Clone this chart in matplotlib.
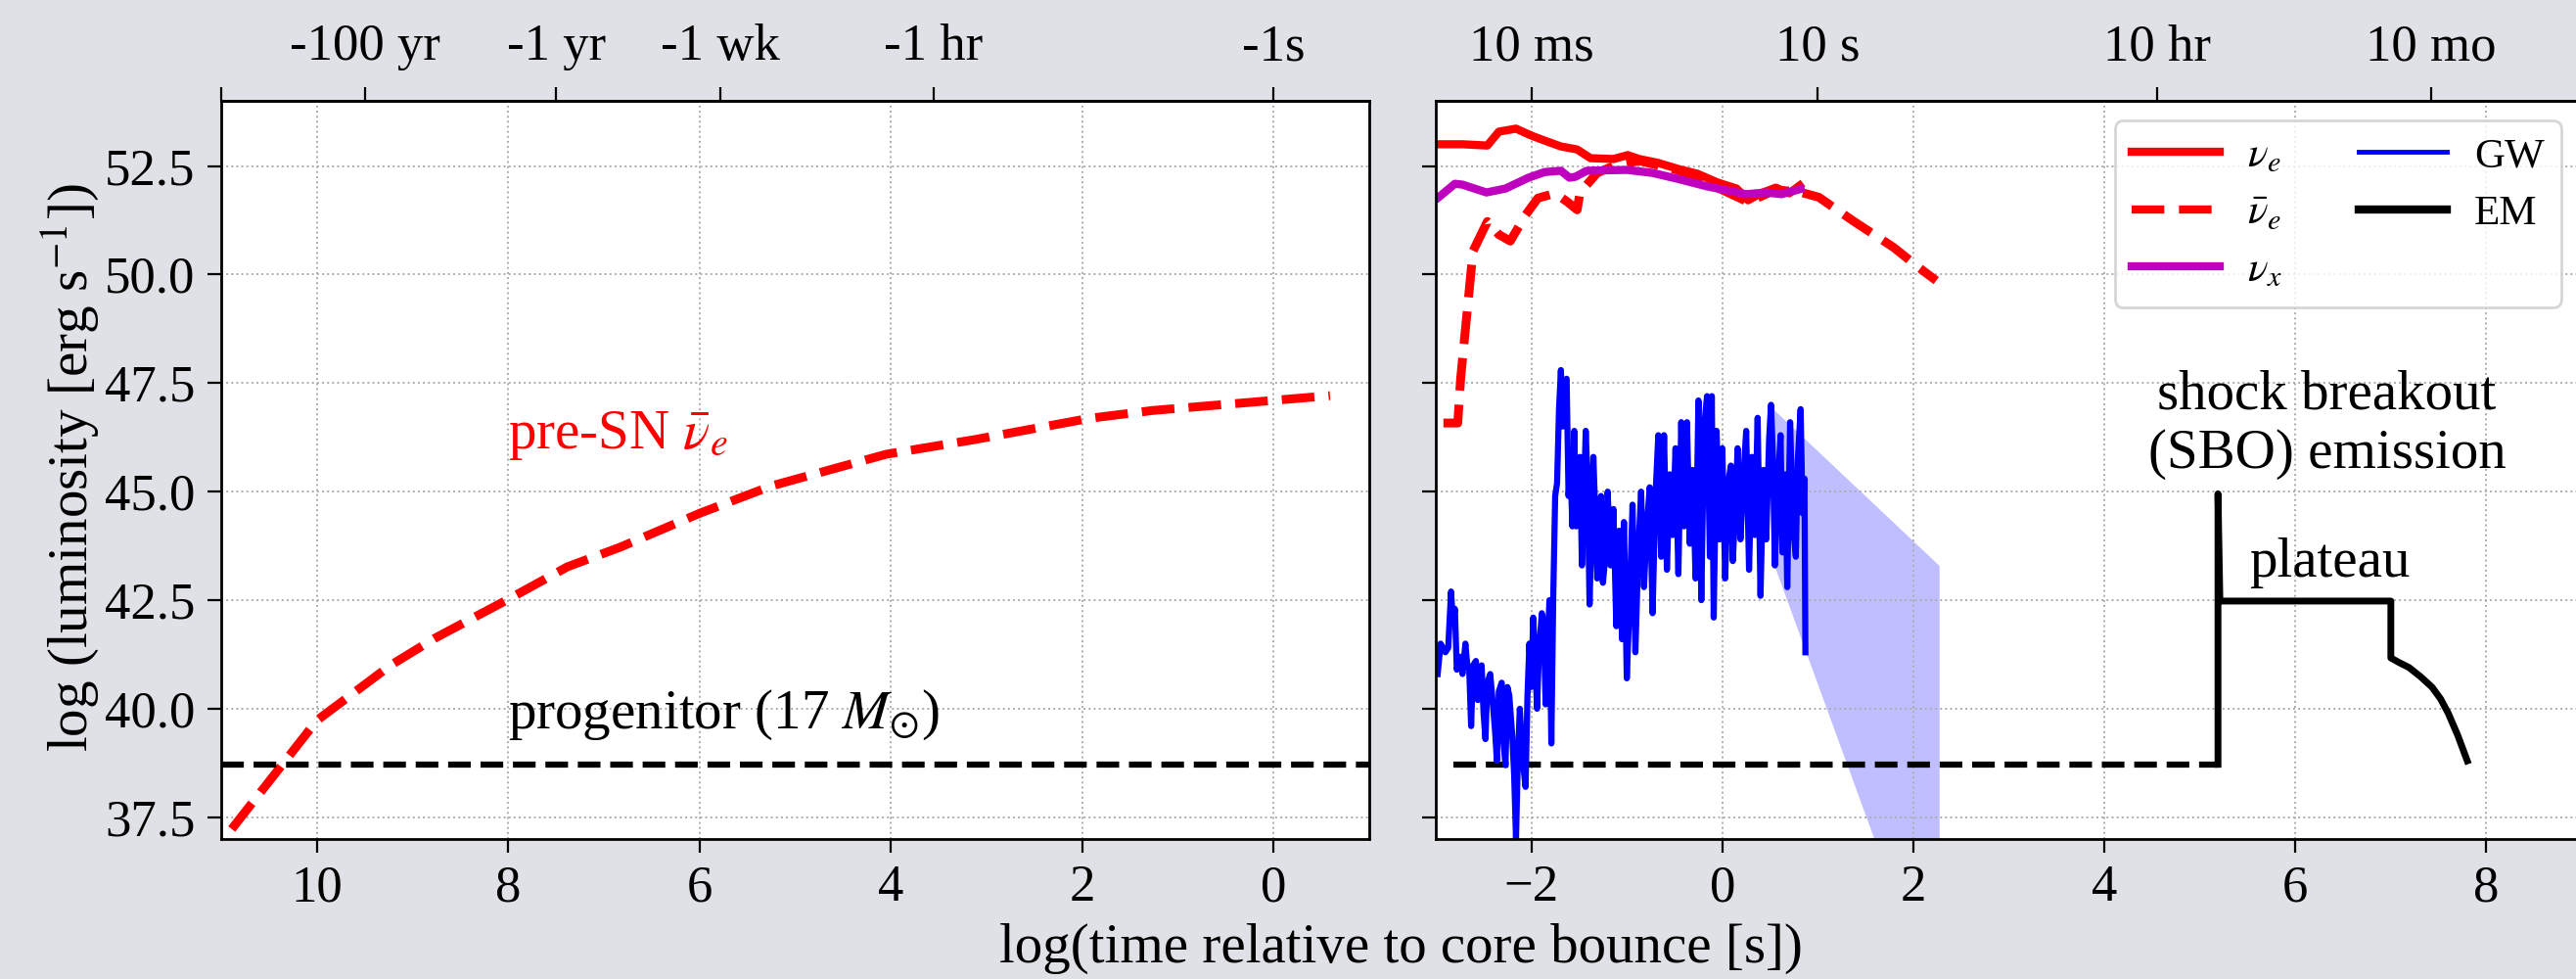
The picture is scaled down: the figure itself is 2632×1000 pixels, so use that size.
import numpy as np
import matplotlib
matplotlib.use('Agg')
import matplotlib.pyplot as plt
from matplotlib.lines import Line2D

plt.rcParams['font.family'] = ['Liberation Serif', 'DejaVu Serif']
plt.rcParams['mathtext.fontset'] = 'stix'
plt.rcParams['axes.unicode_minus'] = True

# ---------------- data ----------------
# left panel: log10(-t) before bounce
presn_x = [10.89, 10.0, 9.23, 8.77, 8.0, 7.38, 6.83, 6.0, 5.25, 4.05, 3.12, 1.92, 1.26, -0.59]
presn_y = [37.23, 39.73, 41.0, 41.62, 42.52, 43.27, 43.72, 44.5, 45.13, 45.86, 46.2, 46.69, 46.87, 47.21]
progenitor_L = 38.72

# right panel: log10(t) after bounce
nue_x = [-2.97, -2.72, -2.46, -2.34, -2.16, -2.0, -1.83, -1.69, -1.52, -1.38, -1.14, -0.99,
         -0.87, -0.67, -0.46, -0.26, -0.05, 0.15, 0.27, 0.40, 0.56, 0.70, 0.81]
nue_y = [53.0, 53.0, 52.97, 53.29, 53.36, 53.2, 53.06, 52.95, 52.88, 52.68, 52.66, 52.75,
         52.66, 52.57, 52.43, 52.32, 52.12, 51.98, 51.71, 51.87, 52.0, 51.87, 52.05]

nuebar_x = [-2.92, -2.77, -2.74, -2.70, -2.61, -2.46, -2.34, -2.22, -2.06, -1.93, -1.75, -1.62,
            -1.52, -1.49, -1.31, -1.14, -0.87, -0.46, -0.05, 0.27, 0.56, 0.81, 1.01, 1.38,
            1.79, 2.07, 2.24]
nuebar_y = [46.58, 46.58, 47.6, 48.51, 50.54, 51.22, 50.92, 50.77, 51.37, 51.76, 51.87, 51.67,
            51.49, 51.89, 52.34, 52.5, 52.62, 52.4, 52.0, 51.67, 51.95, 51.9, 51.78, 51.22,
            50.63, 50.14, 49.86]

nux_x = [-2.97, -2.80, -2.72, -2.47, -2.27, -2.03, -1.86, -1.69, -1.60, -1.54, -1.42, -1.0,
         -0.73, -0.46, -0.16, 0.25, 0.46, 0.62, 0.82]
nux_y = [51.78, 52.09, 52.07, 51.89, 51.98, 52.23, 52.36, 52.39, 52.23, 52.25, 52.39, 52.41,
         52.34, 52.2, 52.03, 51.85, 51.89, 51.85, 51.97]

gw_x = [-2.98, -2.95, -2.90, -2.87, -2.84, -2.82, -2.80, -2.78, -2.75, -2.72, -2.69, -2.67,
        -2.65, -2.63, -2.61, -2.58, -2.56, -2.54, -2.52, -2.50, -2.48, -2.46, -2.43, -2.41,
        -2.38, -2.36, -2.34, -2.31, -2.29, -2.27, -2.25, -2.23, -2.20, -2.18, -2.16, -2.14,
        -2.12, -2.10, -2.08, -2.06, -2.04, -2.02, -2.00, -1.98, -1.96, -1.94, -1.92, -1.89,
        -1.87, -1.85, -1.83, -1.81, -1.79, -1.77,
        -1.75, -1.73, -1.71, -1.69, -1.67, -1.65, -1.63, -1.61, -1.59, -1.57, -1.55, -1.53,
        -1.51, -1.49, -1.47, -1.45, -1.43, -1.41, -1.39, -1.37, -1.35, -1.33, -1.31, -1.29,
        -1.27, -1.25, -1.22, -1.20, -1.17, -1.14, -1.11, -1.08, -1.05, -1.03, -1.00, -0.97,
        -0.94, -0.91, -0.88, -0.85, -0.82, -0.79, -0.76, -0.73, -0.70, -0.67, -0.64, -0.61,
        -0.58, -0.55, -0.52, -0.49, -0.46, -0.43, -0.40, -0.37, -0.34, -0.31, -0.28, -0.25,
        -0.22, -0.19, -0.16, -0.13, -0.11, -0.09, -0.06, -0.03, 0.00, 0.03, 0.06, 0.09,
        0.11, 0.14, 0.16, 0.19, 0.22, 0.25, 0.28, 0.31, 0.34, 0.37, 0.40, 0.43,
        0.46, 0.49, 0.51, 0.53, 0.55, 0.58, 0.61, 0.63, 0.66, 0.68, 0.71, 0.74,
        0.77, 0.79, 0.82, 0.84, 0.86, 0.87]
gw_y = [40.8, 41.5, 41.3, 41.4, 42.7, 42.0, 42.3, 40.9, 41.2, 40.8, 41.5, 41.0,
        40.9, 39.6, 41.0, 41.1, 40.2, 40.9, 41.0, 39.9, 39.3, 40.6, 40.8, 40.3,
        39.5, 38.8, 40.4, 40.6, 39.2, 38.7, 40.5, 40.3, 39.4, 38.5, 37.0, 38.9,
        40.0, 39.2, 38.6, 38.2, 40.3, 41.5, 40.5, 42.1, 41.2, 40.0, 41.3, 42.2,
        42.0, 40.1, 41.4, 42.5, 39.2, 42.6,
        44.9, 45.2, 46.9, 47.8, 46.5, 47.5, 47.6, 44.9, 45.6, 44.2, 46.4, 44.2,
        45.0, 45.8, 43.3, 44.8, 46.4, 45.2, 42.4, 44.1, 45.8, 44.5, 43.0, 43.6,
        44.9, 42.9, 43.6, 45.0, 43.3, 44.6, 41.9, 44.1, 41.6, 44.3, 40.7, 42.5,
        44.7, 41.3, 43.6, 45.0, 42.8, 44.2, 45.1, 42.2, 44.9, 46.3, 43.5, 46.3,
        43.2, 45.4, 44.0, 46.0, 43.1, 46.6, 44.2, 46.6, 43.8, 45.5, 43.0, 47.1,
        42.5, 46.5, 47.2, 43.5, 47.2, 42.1, 46.4, 43.9, 46.0, 43.0, 45.2, 45.6,
        43.4, 44.8, 46.0, 43.9, 45.3, 46.4, 43.2, 45.8, 44.0, 46.7, 42.6, 45.5,
        43.9, 46.2, 47.0, 45.8, 43.3, 45.1, 46.3, 43.6, 45.4, 42.8, 46.6, 44.2,
        43.5, 45.7, 46.9, 44.5, 45.3, 41.3]

# GW extrapolated band
band_x = [0.51, 2.27]
band_hi = [46.95, 43.3]
band_lo = [43.5, 32.9]

# EM light curve
em_x = [5.19, 5.19, 5.21, 7.0, 7.0, 7.09, 7.19, 7.31, 7.43, 7.52, 7.6, 7.70, 7.8]
em_y = [38.72, 44.95, 42.48, 42.48, 41.17, 41.06, 40.95, 40.74, 40.5, 40.23, 39.9, 39.39, 38.8]
prog_right_x = [-2.82, 5.19]

# tick labels
left_xticks = [10, 8, 6, 4, 2, 0]
right_xticks = [-2, 0, 2, 4, 6, 8]
yticks = [37.5, 40.0, 42.5, 45.0, 47.5, 50.0, 52.5]
yr = 3.156e7
top_left_secs = [100 * yr, yr, 604800.0, 3600.0, 1.0]
top_left_labels = ['-100 yr', '-1 yr', '-1 wk', '-1 hr', '-1s']
top_right_secs = [0.01, 10.0, 36000.0, 10 * 30.44 * 86400.0]
top_right_labels = ['10 ms', '10 s', '10 hr', '10 mo']

# ---------------- figure ----------------
W, H = 2632, 1000
fig = plt.figure(figsize=(W / 100, H / 100), dpi=100)
fig.patch.set_facecolor('#dfe1e6')

axL = fig.add_axes([226 / W, 1 - 857 / H, (1399 - 226) / W, (857 - 103) / H])
axR = fig.add_axes([1467 / W, 1 - 857 / H, 1171 / W, (857 - 103) / H])

FS = 38
TFS = 41
for ax in (axL, axR):
    ax.set_facecolor('white')
    ax.set_ylim(37.0, 54.0)
    ax.set_yticks(yticks)
    ax.grid(True, ls=':', color='0.68', lw=1.4)
    ax.tick_params(direction='out', length=10, width=1.6, labelsize=FS, pad=9)
    for s in ax.spines.values():
        s.set_linewidth(2.0)

axL.set_xlim(11, -1)
axL.set_xticks(left_xticks)
axL.set_xticklabels([str(v) for v in left_xticks])
axL.set_yticklabels(['%.1f' % v for v in yticks])
axR.set_xlim(-3, 9)
axR.set_xticks(right_xticks)
axR.set_yticklabels([])

# top axes
secL = axL.secondary_xaxis('top')
secL.set_xticks([11] + list(np.log10(top_left_secs)))
secL.set_xticklabels([''] + top_left_labels)
secR = axR.secondary_xaxis('top')
secR.set_xticks(list(np.log10(top_right_secs)))
secR.set_xticklabels(top_right_labels)
for sec in (secL, secR):
    sec.tick_params(direction='out', length=10, width=1.6, labelsize=FS, pad=12)
    sec.spines['top'].set_linewidth(2.0)

# left panel curves
axL.plot(presn_x, presn_y, color='red', ls='--', lw=6.5, dashes=(3.7, 1.6))
axL.axhline(progenitor_L, color='black', ls='--', lw=4.5, dashes=(3.7, 1.6))
axL.text(8.0, 46.0, r'pre-SN $\bar{\nu}_e$', color='red', fontsize=TFS, ha='left', va='baseline')
axL.text(8.0, 39.55, r'progenitor (17 $M_{\odot}$)', color='black', fontsize=TFS,
         ha='left', va='baseline')

# right panel curves
axR.fill_between(band_x, band_lo, band_hi, color='blue', alpha=0.25, lw=0)
axR.plot(prog_right_x, [progenitor_L, progenitor_L], color='black', ls='--', lw=4.5,
         dashes=(3.7, 1.6))
axR.plot(gw_x, gw_y, color='blue', lw=4.5, solid_joinstyle='round')
axR.plot(nuebar_x, nuebar_y, color='red', ls='--', lw=6.5, dashes=(3.7, 1.6))
axR.plot(nue_x, nue_y, color='red', lw=6)
axR.plot(nux_x, nux_y, color='m', lw=6)
axR.plot(em_x, em_y, color='black', lw=5)

axR.text(6.33, 46.9, 'shock breakout', fontsize=TFS, ha='center', va='baseline')
axR.text(6.33, 45.56, '(SBO) emission', fontsize=TFS, ha='center', va='baseline')
axR.text(5.52, 43.04, 'plateau', fontsize=TFS, ha='left', va='baseline')

handles = [Line2D([], [], color='red', lw=6),
           Line2D([], [], color='red', lw=6, ls='--', dashes=(4.0, 1.8)),
           Line2D([], [], color='m', lw=6),
           Line2D([], [], color='blue', lw=3.5),
           Line2D([], [], color='black', lw=6)]
labels = [r'$\nu_e$', r'$\bar{\nu}_e$', r'$\nu_x$', 'GW', 'EM']
leg = axR.legend(handles, labels, ncol=2, loc='upper right', bbox_to_anchor=(0.982, 0.9735),
                 borderaxespad=0, fontsize=31, handlelength=2.1, handletextpad=0.65,
                 columnspacing=1.8, labelspacing=0.45, framealpha=0.8, fancybox=True)
leg.get_frame().set_edgecolor('0.8')
leg.get_frame().set_linewidth(2)

fig.text(72 / W, 1 - 478 / H, r'log (luminosity [erg s$^{-1}$])', rotation=90,
         ha='center', va='center', fontsize=TFS)
fig.text(1431 / W, 1 - 983 / H, 'log(time relative to core bounce [s])',
         ha='center', va='baseline', fontsize=TFS)

fig.savefig('out.png', dpi=100, facecolor=fig.get_facecolor())
